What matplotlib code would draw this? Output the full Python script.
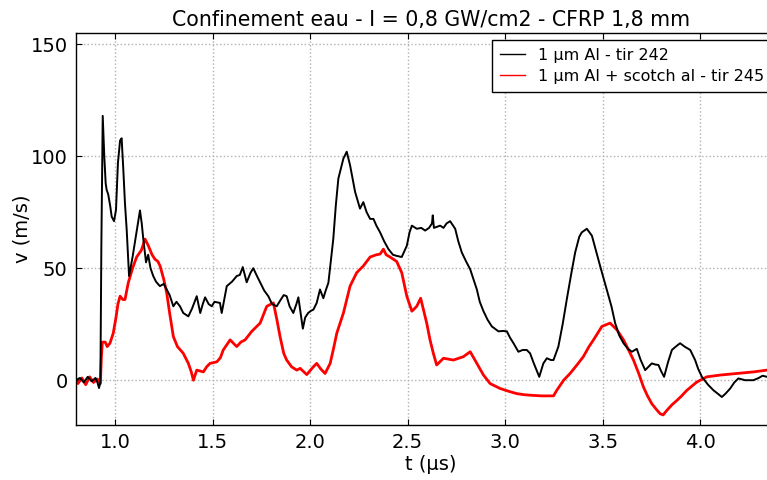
import matplotlib
matplotlib.use("Agg")
import matplotlib.pyplot as plt
from matplotlib.lines import Line2D

title = "Confinement eau - I = 0,8 GW/cm2 - CFRP 1,8 mm"
label_black = "1 µm Al - tir 242"
label_red = "1 µm Al + scotch al - tir 245"

t_black = [0.80, 0.82, 0.84, 0.86, 0.88, 0.90, 0.91, 0.918, 0.925, 0.930, 0.937, 0.945, 0.952,
           0.957, 0.965, 0.975, 0.983, 0.995, 1.005, 1.015, 1.026, 1.034, 1.042, 1.051, 1.060,
           1.072, 1.090, 1.110, 1.128, 1.137, 1.145, 1.159, 1.170, 1.182, 1.196, 1.210, 1.230,
           1.250, 1.265, 1.280, 1.299, 1.315, 1.333, 1.350, 1.376, 1.395, 1.419, 1.437, 1.450,
           1.462, 1.480, 1.496, 1.510, 1.538, 1.547, 1.560, 1.573, 1.600, 1.624, 1.640, 1.655,
           1.675, 1.695, 1.709, 1.725, 1.744, 1.765, 1.786, 1.805, 1.829, 1.850, 1.865, 1.880,
           1.895, 1.914, 1.930, 1.940, 1.955, 1.963, 1.975, 1.990, 2.005, 2.017, 2.034, 2.051,
           2.068, 2.080, 2.094, 2.105, 2.119, 2.132, 2.145, 2.171, 2.188, 2.205, 2.218, 2.231,
           2.256, 2.273, 2.290, 2.308, 2.325, 2.340, 2.359, 2.380, 2.402, 2.425, 2.444, 2.470,
           2.496, 2.510, 2.522, 2.547, 2.570, 2.590, 2.610, 2.625, 2.629, 2.635, 2.667, 2.684,
           2.700, 2.718, 2.744, 2.760, 2.778, 2.800, 2.821, 2.855, 2.870, 2.889, 2.910, 2.932,
           2.966, 2.990, 3.009, 3.025, 3.043, 3.068, 3.090, 3.111, 3.128, 3.145, 3.175, 3.196,
           3.214, 3.235, 3.248, 3.273, 3.295, 3.316, 3.340, 3.359, 3.380, 3.393, 3.419, 3.445,
           3.465, 3.487, 3.521, 3.545, 3.564, 3.585, 3.607, 3.630, 3.650, 3.675, 3.695, 3.718,
           3.735, 3.752, 3.770, 3.786, 3.800, 3.815, 3.835, 3.855, 3.875, 3.897, 3.920, 3.949,
           3.974, 3.990, 4.009, 4.040, 4.068, 4.090, 4.111, 4.130, 4.154, 4.175, 4.196, 4.230,
           4.273, 4.300, 4.320, 4.342, 4.350]
v_black = [0, 1, -1, 1.5, -0.5, 1, -1, -3.5, -1, 60, 118, 100, 88,
           85, 83, 78, 73, 71, 76, 97, 107, 108, 95, 79, 67,
           46.5, 55, 66, 75.8, 70, 63, 52.6, 56, 50, 46.5, 44, 42,
           43, 40.5, 38, 33, 35, 33, 30, 28.5, 32, 37.5, 30, 34,
           37, 34, 33, 35, 34.5, 30, 36, 42, 44, 46.5, 47, 50.5,
           43.7, 48, 50, 47, 43.7, 40, 37.5, 34, 33, 36, 38, 37.5,
           33, 30, 34, 37, 28, 23, 28, 30, 31, 31.5, 34.5, 40.5,
           36.6, 40, 43.5, 52, 63, 78, 90, 99, 102, 96, 90, 84,
           76.6, 79.5, 75, 72, 72, 69, 66, 62, 58.5, 56, 55.5, 55,
           60, 66, 69, 67.6, 68, 66.8, 68, 70, 73.6, 68, 69, 68,
           70, 71, 67.6, 62, 57, 53, 49.5, 40.5, 35, 30.8, 27, 24,
           21.8, 22, 21.8, 19, 16.5, 12.7, 13.5, 13.5, 12, 8, 1.5, 7.5,
           9.8, 9, 9, 15, 25, 36, 48, 57, 64, 66, 67.6, 64.5,
           58, 51, 40.5, 33, 25.5, 20, 16.5, 14, 12.7, 14, 9, 4.5,
           6, 7.5, 7, 6.8, 4, 1.5, 8, 13.5, 15, 16.5, 15, 13.5,
           9, 5, 1.5, -2, -4.5, -6, -7.5, -6, -3.7, -1, 0.8, 0,
           0, 1, 2, 1.5, 2]

t_red = [0.80, 0.81, 0.83, 0.85, 0.87, 0.89, 0.91, 0.925, 0.930, 0.935, 0.950, 0.960, 0.974,
         0.991, 1.005, 1.015, 1.026, 1.040, 1.051, 1.060, 1.068, 1.090, 1.111, 1.135, 1.154,
         1.171, 1.190, 1.205, 1.220, 1.231, 1.250, 1.265, 1.280, 1.299, 1.320, 1.350, 1.376,
         1.390, 1.402, 1.419, 1.453, 1.470, 1.487, 1.522, 1.540, 1.555, 1.590, 1.624, 1.645,
         1.667, 1.701, 1.744, 1.760, 1.778, 1.812, 1.830, 1.846, 1.865, 1.880, 1.905, 1.932,
         1.949, 1.983, 2.017, 2.034, 2.055, 2.077, 2.103, 2.120, 2.137, 2.171, 2.205, 2.239,
         2.273, 2.308, 2.340, 2.359, 2.376, 2.390, 2.410, 2.444, 2.470, 2.496, 2.522, 2.547,
         2.567, 2.580, 2.598, 2.615, 2.632, 2.649, 2.684, 2.735, 2.786, 2.821, 2.855, 2.889,
         2.923, 2.974, 3.020, 3.060, 3.100, 3.145, 3.190, 3.222, 3.248, 3.265, 3.300, 3.333,
         3.370, 3.401, 3.430, 3.453, 3.496, 3.538, 3.573, 3.607, 3.630, 3.658, 3.685, 3.709,
         3.730, 3.752, 3.775, 3.795, 3.810, 3.829, 3.855, 3.881, 3.905, 3.932, 3.983, 4.034,
         4.103, 4.188, 4.273, 4.342]
v_red = [0, -1.5, 1, -2, 1.5, -1, 0.5, -1.5, 10, 17, 17, 15, 16.5,
         21, 28, 34, 37.5, 36, 36, 40, 43.5, 50, 55, 58, 63,
         60, 56, 54, 53, 51, 45, 39, 30, 19.5, 15, 12, 7.5,
         4, 0, 4.5, 3.7, 6, 7.5, 8.2, 10, 13.5, 18, 15, 17,
         18, 21.8, 25.5, 29, 33, 34.5, 27, 19.5, 12, 9, 6, 4.5,
         5.3, 2.5, 6, 7.5, 5, 3, 7.5, 14, 21, 30, 42, 48,
         51, 55, 56, 56.3, 58.5, 56, 55, 53, 48, 37.5, 30.8, 33,
         36.6, 32, 25.5, 18, 12, 6.8, 9.8, 9, 10.5, 12.7, 7.5, 2.3,
         -1.5, -3.7, -5, -6, -6.5, -6.8, -7, -7, -7, -4.5, 0, 3,
         7, 10.5, 15, 18, 24, 25.5, 22.5, 18, 14, 9, 3, -3,
         -7, -10.5, -13, -15, -15.5, -13.5, -11, -9, -7, -4.5, -0.8, 1.5,
         2.3, 3, 3.7, 4.5]

x_ticks = [1.0, 1.5, 2.0, 2.5, 3.0, 3.5, 4.0]
y_ticks = [0, 50, 100, 150]

fig = plt.figure(figsize=(7.67, 4.80), dpi=100)
ax = fig.add_axes([76 / 767, 55 / 480, 710 / 767, 392 / 480])

ax.plot(t_black, v_black, color="black", lw=1.4, zorder=3)
ax.plot(t_red, v_red, color="red", lw=2.0, zorder=2)

ax.set_xlim(0.8, 4.44)
ax.set_ylim(-20, 155)
ax.set_xticks(x_ticks)
ax.set_yticks(y_ticks)
ax.grid(True, color="#b0b0b0", linestyle=":", linewidth=1.0)
ax.tick_params(direction="in", top=True, right=True, labelsize=14, length=4, pad=6)
for s in ax.spines.values():
    s.set_linewidth(1.0)

ax.set_title(title, fontsize=14.8, pad=5)
ax.set_xlabel("t (µs)", fontsize=14, labelpad=2)
ax.set_ylabel("v (m/s)", fontsize=14, labelpad=-1)

handles = [Line2D([], [], color="black", lw=1.0), Line2D([], [], color="red", lw=1.0)]
leg = ax.legend(handles, [label_black, label_red], loc="upper right",
                bbox_to_anchor=(772 / 767, 1 - 40 / 480), bbox_transform=fig.transFigure,
                borderaxespad=0, fontsize=11.5, handlelength=1.6, fancybox=False,
                framealpha=1, edgecolor="black", borderpad=0.5, labelspacing=0.35)
leg.get_frame().set_linewidth(1.0)

fig.savefig("out.png", dpi=100, facecolor="white")
